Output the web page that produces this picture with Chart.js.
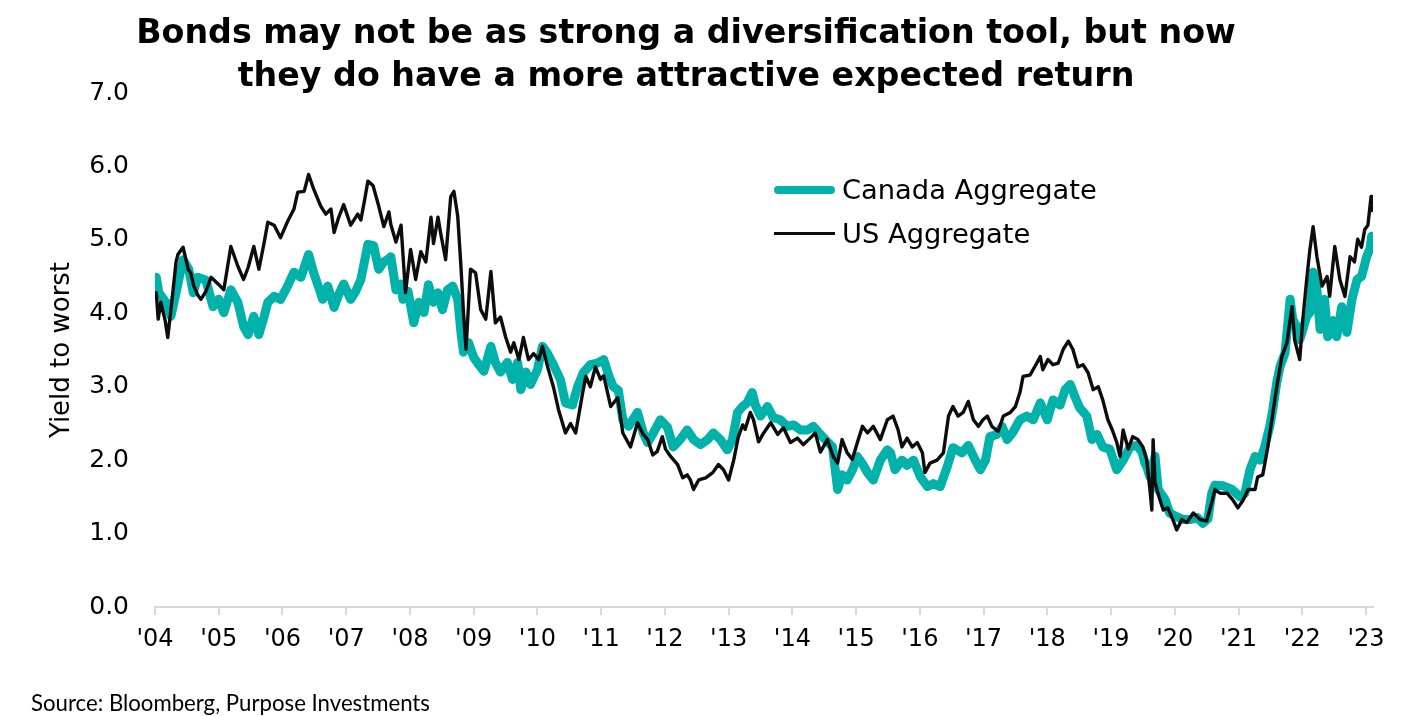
<!DOCTYPE html>
<html>
<head>
<meta charset="utf-8">
<script src="https://cdn.jsdelivr.net/npm/chart.js@4.4.1/dist/chart.umd.min.js"></script>
<style>
  body { margin: 0; background: #fff; }
  #wrap { position: relative; width: 1408px; height: 716px; overflow: hidden; }
  #chart { position: absolute; left: 0; top: 0; }
  .title { position: absolute; left: 0; width: 1372px; height: 44px; line-height: 44px;
           text-align: center; font-family: "DejaVu Sans"; font-weight: bold; color: #000; white-space: nowrap; }
  .legText { position: absolute; left: 842px; height: 36px; line-height: 36px;
             font-family: "DejaVu Sans"; color: #000; white-space: nowrap; }
  .swatch { position: absolute; left: 774px; width: 61px; }
  #source { position: absolute; left: 31px; top: 689px; height: 28px; line-height: 28px;
            font-family: Lato; color: #000; white-space: nowrap; }
</style>
</head>
<body>
<div id="wrap">
  <canvas id="chart" width="1408" height="716"></canvas>
  <div class="title" id="t1" style="top:10px">Bonds may not be as strong a diversification tool, but now</div>
  <div class="title" id="t2" style="top:53px">they do have a more attractive expected return</div>
  <div class="swatch" style="top:186px;height:8px;border-radius:4px;background:#00b2a9"></div>
  <div class="legText" id="l1" style="top:172px">Canada Aggregate</div>
  <div class="swatch" style="top:232px;height:3px;background:#0d0d0d"></div>
  <div class="legText" id="l2" style="top:216px">US Aggregate</div>
  <div id="source">Source: Bloomberg, Purpose Investments</div>
</div>
<script>
// x ticks
const tickYears = [2004, 2005, 2006, 2007, 2008, 2009, 2010, 2011, 2012, 2013,
                   2014, 2015, 2016, 2017, 2018, 2019, 2020, 2021, 2022, 2023];
const tickLabels = ["'04", "'05", "'06", "'07", "'08", "'09", "'10", "'11", "'12", "'13",
                    "'14", "'15", "'16", "'17", "'18", "'19", "'20", "'21", "'22", "'23"];

// US Aggregate, yield to worst (%), dates as decimal years
const usDates = [
  2004.02, 2004.05, 2004.09, 2004.16, 2004.20, 2004.27, 2004.33, 2004.36, 2004.44, 2004.52,
  2004.56, 2004.61, 2004.67, 2004.72, 2004.80, 2004.88, 2004.99, 2005.08, 2005.19, 2005.30,
  2005.39, 2005.46, 2005.55, 2005.63, 2005.71, 2005.77, 2005.87, 2005.97, 2006.08, 2006.18,
  2006.24, 2006.34, 2006.41, 2006.49, 2006.60, 2006.68, 2006.76, 2006.81, 2006.88, 2006.96,
  2007.07, 2007.18, 2007.23, 2007.29, 2007.34, 2007.42, 2007.51, 2007.59, 2007.67, 2007.70,
  2007.78, 2007.86, 2007.93, 2008.01, 2008.09, 2008.17, 2008.25, 2008.33, 2008.37, 2008.44,
  2008.48, 2008.56, 2008.64, 2008.69, 2008.75, 2008.80, 2008.84, 2008.88, 2008.95, 2009.03,
  2009.11, 2009.19, 2009.27, 2009.34, 2009.42, 2009.50, 2009.58, 2009.63, 2009.71, 2009.78,
  2009.86, 2009.94, 2010.02, 2010.08, 2010.16, 2010.25, 2010.33, 2010.44, 2010.52, 2010.60,
  2010.71, 2010.76, 2010.83, 2010.91, 2010.99, 2011.04, 2011.15, 2011.26, 2011.34, 2011.46,
  2011.57, 2011.66, 2011.73, 2011.81, 2011.88, 2011.96, 2012.01, 2012.09, 2012.20, 2012.28,
  2012.35, 2012.40, 2012.45, 2012.53, 2012.64, 2012.75, 2012.84, 2012.92, 2013.00, 2013.08,
  2013.15, 2013.22, 2013.26, 2013.34, 2013.39, 2013.47, 2013.55, 2013.66, 2013.77, 2013.86,
  2013.97, 2014.08, 2014.17, 2014.28, 2014.36, 2014.44, 2014.55, 2014.64, 2014.71, 2014.78,
  2014.86, 2014.94, 2015.02, 2015.10, 2015.18, 2015.27, 2015.38, 2015.49, 2015.58, 2015.66,
  2015.72, 2015.80, 2015.88, 2015.96, 2016.04, 2016.08, 2016.16, 2016.27, 2016.37, 2016.45,
  2016.52, 2016.60, 2016.68, 2016.76, 2016.84, 2016.92, 2016.99, 2017.06, 2017.13, 2017.23,
  2017.31, 2017.42, 2017.50, 2017.57, 2017.62, 2017.73, 2017.84, 2017.89, 2017.93, 2018.01,
  2018.09, 2018.17, 2018.25, 2018.33, 2018.40, 2018.48, 2018.56, 2018.64, 2018.72, 2018.80,
  2018.87, 2018.95, 2019.02, 2019.09, 2019.14, 2019.19, 2019.27, 2019.34, 2019.42, 2019.50,
  2019.56, 2019.61, 2019.64, 2019.66, 2019.69, 2019.72, 2019.77, 2019.82, 2019.89, 2019.97,
  2020.03, 2020.11, 2020.19, 2020.29, 2020.40, 2020.50, 2020.58, 2020.63, 2020.71, 2020.82,
  2020.91, 2020.99, 2021.07, 2021.15, 2021.26, 2021.30, 2021.38, 2021.46, 2021.54, 2021.60,
  2021.68, 2021.76, 2021.84, 2021.88, 2021.96, 2022.01, 2022.07, 2022.12, 2022.17, 2022.23,
  2022.31, 2022.39, 2022.43, 2022.51, 2022.59, 2022.67, 2022.75, 2022.82, 2022.87, 2022.93,
  2022.98, 2023.03, 2023.08, 2023.09
];
const usYield = [
  4.28, 3.92, 4.15, 3.90, 3.67, 4.20, 4.70, 4.80, 4.90, 4.60,
  4.55, 4.37, 4.25, 4.19, 4.30, 4.49, 4.40, 4.32, 4.91, 4.64,
  4.46, 4.62, 4.91, 4.60, 4.95, 5.24, 5.20, 5.03, 5.25, 5.42,
  5.65, 5.66, 5.89, 5.69, 5.46, 5.35, 5.42, 5.10, 5.30, 5.48,
  5.20, 5.35, 5.27, 5.55, 5.80, 5.74, 5.46, 5.18, 5.38, 5.21,
  4.97, 5.20, 4.28, 4.87, 4.46, 4.84, 4.70, 5.31, 4.95, 5.31,
  5.10, 4.73, 5.59, 5.66, 5.32, 4.64, 4.01, 3.51, 4.60, 4.55,
  4.05, 3.92, 4.57, 3.87, 3.95, 3.68, 3.47, 3.60, 3.37, 3.67,
  3.37, 3.45, 3.37, 3.55, 3.27, 3.00, 2.69, 2.37, 2.50, 2.37,
  2.92, 3.14, 3.00, 3.27, 3.10, 3.15, 2.73, 2.85, 2.37, 2.18,
  2.51, 2.35, 2.28, 2.07, 2.12, 2.32, 2.15, 2.05, 1.94, 1.76,
  1.80, 1.73, 1.60, 1.73, 1.76, 1.83, 1.94, 1.87, 1.73, 2.00,
  2.31, 2.48, 2.42, 2.65, 2.55, 2.25, 2.37, 2.51, 2.35, 2.44,
  2.24, 2.30, 2.21, 2.30, 2.37, 2.11, 2.28, 2.05, 1.96, 2.28,
  2.10, 2.01, 2.24, 2.46, 2.37, 2.46, 2.28, 2.55, 2.60, 2.41,
  2.18, 2.30, 2.18, 2.24, 2.10, 1.83, 1.96, 2.00, 2.10, 2.60,
  2.73, 2.60, 2.65, 2.80, 2.55, 2.46, 2.55, 2.60, 2.46, 2.39,
  2.60, 2.65, 2.73, 2.92, 3.14, 3.16, 3.33, 3.41, 3.23, 3.37,
  3.30, 3.32, 3.51, 3.62, 3.51, 3.27, 3.30, 3.19, 2.96, 3.00,
  2.82, 2.55, 2.41, 2.24, 2.05, 2.41, 2.15, 2.32, 2.28, 2.18,
  2.00, 1.60, 1.32, 2.28, 1.70, 1.60, 1.45, 1.32, 1.35, 1.19,
  1.05, 1.19, 1.15, 1.28, 1.19, 1.17, 1.42, 1.60, 1.55, 1.55,
  1.46, 1.35, 1.45, 1.60, 1.60, 1.77, 1.80, 2.18, 2.65, 3.00,
  3.41, 3.60, 4.09, 3.64, 3.37, 3.92, 4.46, 4.87, 5.18, 4.77,
  4.37, 4.50, 4.23, 4.91, 4.46, 4.23, 4.77, 4.70, 5.01, 4.90,
  5.14, 5.20, 5.59, 5.40
];

// Canada Aggregate, yield to worst (%), dates as decimal years
const caDates = [
  2004.02, 2004.06, 2004.17, 2004.25, 2004.33, 2004.44, 2004.53, 2004.60, 2004.67, 2004.80,
  2004.91, 2005.00, 2005.08, 2005.19, 2005.30, 2005.39, 2005.46, 2005.55, 2005.63, 2005.71,
  2005.77, 2005.87, 2005.97, 2006.08, 2006.18, 2006.29, 2006.41, 2006.49, 2006.57, 2006.63,
  2006.71, 2006.81, 2006.88, 2006.96, 2007.07, 2007.15, 2007.23, 2007.34, 2007.43, 2007.51,
  2007.59, 2007.65, 2007.70, 2007.78, 2007.86, 2007.89, 2007.97, 2008.06, 2008.14, 2008.22,
  2008.29, 2008.37, 2008.44, 2008.51, 2008.59, 2008.67, 2008.75, 2008.80, 2008.84, 2008.92,
  2009.00, 2009.08, 2009.16, 2009.27, 2009.34, 2009.42, 2009.53, 2009.61, 2009.69, 2009.74,
  2009.82, 2009.89, 2010.00, 2010.08, 2010.16, 2010.25, 2010.36, 2010.44, 2010.55, 2010.63,
  2010.72, 2010.83, 2010.94, 2011.04, 2011.12, 2011.19, 2011.27, 2011.34, 2011.43, 2011.57,
  2011.66, 2011.73, 2011.82, 2011.93, 2012.04, 2012.13, 2012.24, 2012.35, 2012.45, 2012.56,
  2012.67, 2012.76, 2012.87, 2012.98, 2013.06, 2013.14, 2013.22, 2013.29, 2013.37, 2013.42,
  2013.50, 2013.61, 2013.70, 2013.81, 2013.92, 2014.02, 2014.13, 2014.24, 2014.33, 2014.44,
  2014.55, 2014.63, 2014.71, 2014.78, 2014.86, 2014.94, 2015.02, 2015.10, 2015.18, 2015.27,
  2015.38, 2015.49, 2015.54, 2015.61, 2015.72, 2015.80, 2015.90, 2016.01, 2016.12, 2016.21,
  2016.32, 2016.43, 2016.52, 2016.66, 2016.76, 2016.87, 2016.95, 2017.03, 2017.10, 2017.21,
  2017.29, 2017.37, 2017.46, 2017.57, 2017.68, 2017.78, 2017.89, 2018.00, 2018.09, 2018.20,
  2018.28, 2018.36, 2018.44, 2018.51, 2018.62, 2018.70, 2018.78, 2018.87, 2018.98, 2019.09,
  2019.19, 2019.30, 2019.41, 2019.49, 2019.53, 2019.56, 2019.61, 2019.69, 2019.74, 2019.85,
  2019.92, 2020.03, 2020.13, 2020.24, 2020.35, 2020.44, 2020.52, 2020.58, 2020.63, 2020.76,
  2020.90, 2021.02, 2021.10, 2021.18, 2021.26, 2021.34, 2021.41, 2021.49, 2021.54, 2021.60,
  2021.65, 2021.73, 2021.81, 2021.85, 2021.92, 2021.96, 2022.01, 2022.07, 2022.12, 2022.17,
  2022.23, 2022.28, 2022.35, 2022.40, 2022.48, 2022.54, 2022.62, 2022.70, 2022.78, 2022.86,
  2022.93, 2023.01, 2023.06, 2023.09
];
const caYield = [
  4.49, 4.28, 4.15, 3.96, 4.28, 4.73, 4.60, 4.28, 4.49, 4.45,
  4.09, 4.19, 4.01, 4.32, 4.15, 3.82, 3.71, 3.96, 3.71, 3.95,
  4.15, 4.23, 4.19, 4.37, 4.56, 4.49, 4.80, 4.55, 4.35, 4.19,
  4.37, 4.08, 4.25, 4.40, 4.19, 4.30, 4.46, 4.94, 4.92, 4.60,
  4.70, 4.73, 4.77, 4.32, 4.40, 4.19, 4.30, 3.87, 4.15, 4.01,
  4.39, 4.15, 4.28, 4.05, 4.32, 4.37, 4.19, 3.74, 3.47, 3.60,
  3.40, 3.30, 3.21, 3.55, 3.33, 3.20, 3.33, 3.10, 3.33, 2.96,
  3.20, 3.03, 3.23, 3.55, 3.45, 3.30, 3.10, 2.78, 2.75, 3.00,
  3.19, 3.30, 3.32, 3.37, 3.15, 3.00, 2.95, 2.55, 2.46, 2.65,
  2.37, 2.24, 2.37, 2.55, 2.45, 2.18, 2.28, 2.41, 2.28, 2.21,
  2.28, 2.37, 2.28, 2.14, 2.28, 2.65, 2.73, 2.78, 2.92, 2.75,
  2.60, 2.73, 2.58, 2.55, 2.46, 2.48, 2.41, 2.41, 2.46, 2.35,
  2.25, 2.18, 1.60, 1.80, 1.73, 1.86, 2.05, 1.95, 1.83, 1.73,
  2.00, 2.14, 2.10, 1.87, 2.00, 1.93, 2.00, 1.77, 1.64, 1.68,
  1.64, 1.91, 2.17, 2.10, 2.20, 2.00, 1.87, 2.00, 2.32, 2.35,
  2.46, 2.28, 2.38, 2.55, 2.60, 2.55, 2.78, 2.55, 2.82, 2.75,
  2.96, 3.03, 2.85, 2.71, 2.60, 2.28, 2.35, 2.18, 2.15, 1.87,
  2.00, 2.18, 2.20, 2.10, 1.96, 1.91, 1.77, 2.05, 1.60, 1.46,
  1.28, 1.23, 1.19, 1.19, 1.22, 1.14, 1.20, 1.55, 1.66, 1.65,
  1.60, 1.50, 1.55, 1.87, 2.05, 2.00, 2.18, 2.46, 2.70, 3.06,
  3.27, 3.46, 4.19, 3.92, 3.80, 3.64, 3.78, 3.96, 4.01, 4.56,
  4.32, 3.78, 4.19, 3.68, 3.90, 3.68, 4.09, 3.74, 4.19, 4.46,
  4.50, 4.77, 4.87, 5.05
];

const TEAL = '#00b2a9';
const INK = '#0d0d0d';
const LABEL_FONT = 'DejaVu Sans';

// size a text so it spans a given width
function fitSize(text, weight, family, width) {
  const c = document.createElement('canvas').getContext('2d');
  c.font = weight + ' 100px "' + family + '"';
  return 100 * width / c.measureText(text).width;
}

const titleSize = fitSize(document.getElementById('t1').textContent, 'bold', 'DejaVu Sans', 1100);
document.getElementById('t1').style.fontSize = titleSize + 'px';
document.getElementById('t2').style.fontSize = titleSize + 'px';
const legSize = fitSize('Canada Aggregate', 'normal', 'DejaVu Sans', 255);
document.getElementById('l1').style.fontSize = legSize + 'px';
document.getElementById('l2').style.fontSize = legSize + 'px';
document.getElementById('source').style.fontSize =
  fitSize('Source: Bloomberg, Purpose Investments', 'normal', 'Lato', 399) + 'px';

const toPoints = (xs, ys) => xs.map((x, i) => ({ x: x, y: ys[i] }));

new Chart(document.getElementById('chart'), {
  type: 'line',
  data: {
    datasets: [
      {
        label: 'Canada Aggregate',
        data: toPoints(caDates, caYield),
        borderColor: TEAL,
        borderWidth: 9,
        order: 1
      },
      {
        label: 'US Aggregate',
        data: toPoints(usDates, usYield),
        borderColor: INK,
        borderWidth: 3.4,
        order: 0
      }
    ]
  },
  options: {
    responsive: false,
    animation: false,
    layout: { padding: { top: 93, right: 35, bottom: 0, left: 0 } },
    elements: {
      point: { radius: 0 },
      line: { tension: 0, borderJoinStyle: 'round', borderCapStyle: 'round', fill: false }
    },
    plugins: {
      legend: { display: false },
      tooltip: { enabled: false }
    },
    scales: {
      x: {
        type: 'linear',
        min: 2004,
        max: 2023.11,
        afterFit: (s) => { s.height = 109; },
        afterBuildTicks: (s) => { s.ticks = tickYears.map(v => ({ value: v })); },
        ticks: {
          callback: (v, i) => tickLabels[i],
          font: { family: LABEL_FONT, size: 24 },
          color: '#000',
          padding: 10,
          maxRotation: 0,
          autoSkip: false
        },
        grid: { drawOnChartArea: false, color: '#d9d9d9', lineWidth: 2, tickLength: 8 },
        border: { color: '#d9d9d9', width: 2 }
      },
      y: {
        min: 0,
        max: 7,
        afterFit: (s) => { s.width = 155; },
        ticks: {
          stepSize: 1,
          callback: (v) => v.toFixed(1),
          font: { family: LABEL_FONT, size: 25 },
          color: '#000',
          padding: 26
        },
        grid: { display: false, drawTicks: false },
        border: { display: false },
        title: {
          display: true,
          text: 'Yield to worst',
          font: { family: LABEL_FONT, size: 26 },
          color: '#000',
          padding: { top: 47, bottom: 0 }
        }
      }
    }
  }
});
</script>
</body>
</html>
